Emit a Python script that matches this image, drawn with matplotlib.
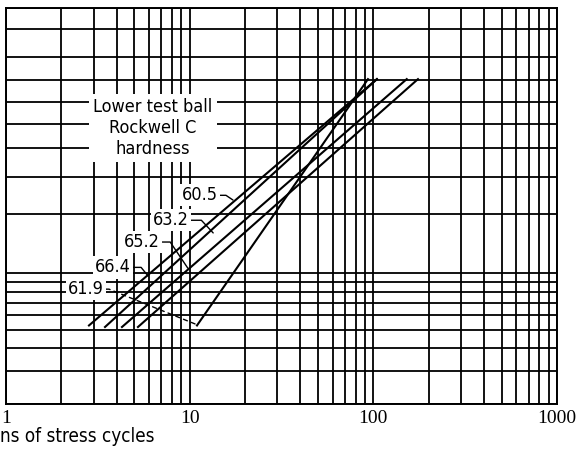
import numpy as np
import matplotlib.pyplot as plt

# lower test ball hardness (Rockwell C) and the two ends of each fitted life line
hardness = ['60.5', '61.9', '63.2', '65.2', '66.4']
life_low = [2.83, 10.96, 3.46, 4.28, 5.23]        # millions of stress cycles
life_high = [104.6, 93.5, 104.6, 152.0, 175.0]
pct_low = [5.3, 5.3, 5.2, 5.2, 5.2]               # percent failed
pct_high = [70.5, 70.5, 70.5, 70.5, 70.5]

x_ticks = [1, 10, 100, 1000]
pct_grid = [2, 3, 4, 5, 6, 7, 8, 9, 10, 20, 30, 40, 50, 60, 70, 80, 90, 95]

# label centre, leader tip (axes fraction) and angle of the leader's slanted part
label_pos = {'60.5': (0.352, 0.527), '63.2': (0.299, 0.464), '65.2': (0.247, 0.409),
             '66.4': (0.194, 0.345), '61.9': (0.145, 0.290)}
leader_tip = {'60.5': (0.412, 0.515), '63.2': (0.376, 0.432), '65.2': (0.330, 0.343),
              '66.4': (0.258, 0.323), '61.9': (0.347, 0.200)}
leader_ang = {'60.5': 146, '63.2': 133, '65.2': 124, '66.4': 129, '61.9': 158}


def weib(p):
    p = np.clip(np.asarray(p, dtype=float), 1e-6, 99.9999)
    return np.log(-np.log(1 - p / 100.0))


def weib_inv(y):
    return 100.0 * (1 - np.exp(-np.exp(y)))


sans = ['DejaVu Sans']
serif = ['Liberation Serif', 'DejaVu Serif']

fig = plt.figure(figsize=(5.81, 4.58), dpi=100)
ax = fig.add_axes([6 / 581, 54 / 458, 551 / 581, 396 / 458])

ax.set_xscale('log')
ax.set_yscale('function', functions=(weib, weib_inv))
ax.set_xlim(1, 1000)
ax.set_ylim(2, 95)

ax.set_xticks(x_ticks)
ax.set_xticklabels([str(v) for v in x_ticks], family=serif, fontsize=14)
ax.set_xticks([m * d for d in [1, 10, 100] for m in range(2, 10)], minor=True)
ax.set_yticks(pct_grid)
ax.set_yticklabels([])
ax.set_yticks([], minor=True)
ax.tick_params(which='both', length=0, pad=4)
ax.tick_params(axis='y', labelleft=False)
ax.grid(True, which='both', color='black', linewidth=1.3)
for s in ax.spines.values():
    s.set_linewidth(1.4)

for i, h in enumerate(hardness):
    ax.plot([life_low[i], life_high[i]], [pct_low[i], pct_high[i]],
            color='black', linewidth=1.5, zorder=4)

ax.text(0.267, 0.697, 'Lower test ball\nRockwell C\nhardness', transform=ax.transAxes,
        ha='center', va='center', family=sans, fontstretch='condensed', fontsize=13,
        linespacing=1.22, bbox=dict(facecolor='white', edgecolor='none', pad=3), zorder=3)

for h in hardness:
    ls = (0, (3, 3)) if h == '61.9' else '-'
    ax.annotate(h, xy=leader_tip[h], xycoords='axes fraction',
                xytext=label_pos[h], textcoords='axes fraction',
                ha='center', va='center', family=sans, fontstretch='condensed', fontsize=13,
                bbox=dict(facecolor='white', edgecolor='none', pad=1.5),
                arrowprops=dict(arrowstyle='-', color='black', linewidth=1.0, linestyle=ls,
                                shrinkA=0, shrinkB=0,
                                connectionstyle='angle,angleA=0,angleB=%d,rad=0' % leader_ang[h]),
                zorder=3)

fig.text(0.0, 21 / 458, 'ns of stress cycles', ha='left', va='center', family=sans,
         fontstretch='condensed', fontsize=13.5)

fig.savefig('out.png', dpi=100)
